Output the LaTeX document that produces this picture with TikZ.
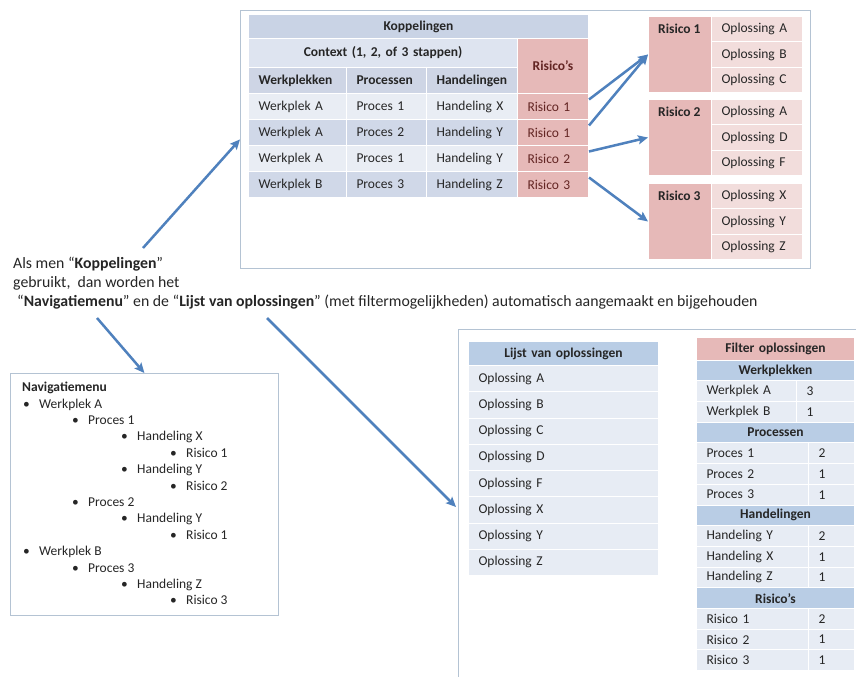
\documentclass[tikz,border=0pt]{standalone}
\usepackage{fontspec}
\setmainfont{Carlito}
\usetikzlibrary{arrows.meta}
\definecolor{txt}{RGB}{38,38,38}
\definecolor{risktxt}{RGB}{99,37,35}
\definecolor{kopkop}{RGB}{201,211,229}
\definecolor{kopctx}{RGB}{222,228,240}
\definecolor{kophead}{RGB}{206,213,229}
\definecolor{rowlight}{RGB}{233,237,244}
\definecolor{rowdark}{RGB}{208,216,232}
\definecolor{risk}{RGB}{230,185,184}
\definecolor{risklight}{RGB}{242,221,220}
\definecolor{lijsthead}{RGB}{185,205,229}
\definecolor{lijstrow}{RGB}{231,236,244}
\definecolor{framecol}{RGB}{180,195,211}
\definecolor{arrowblue}{RGB}{79,129,189}
\newcommand{\cellfont}{\fontsize{13.5}{16}\selectfont}

\tikzset{
    cell/.style={anchor=north west, inner xsep=10pt, inner ysep=0pt, draw=white, line width=1pt,
        text=txt, align=left, font=\cellfont},
    hcell/.style={cell, align=center, font=\cellfont\bfseries},
    cw/.style={minimum width=#1, text width=#1-20pt},
    ch/.style={minimum height=#1},
    frame/.style={draw=framecol, line width=0.8pt},
    blocklabel/.style={anchor=north west, inner sep=0pt, xshift=10pt, yshift=-8pt,
        font=\cellfont\bfseries, text=txt},
    link/.style={draw=arrowblue, line width=2.5pt, -{Stealth[length=10pt, width=9pt, inset=2pt]}},
}

\begin{document}
\begin{tikzpicture}[x=1pt, y=-1pt]
    \path[fill=white, use as bounding box] (0,0) rectangle (856,677);

    % Frames
    \node[frame, anchor=north west, inner sep=0pt, minimum width=570pt, minimum height=258pt] (koppelbox) at (240,10) {};
    \node[frame, anchor=north west, inner sep=0pt, minimum width=268pt, minimum height=242pt] (navbox) at (10,373) {};
    \draw[frame] (856,329) -| (458,677);

    % Koppelingen table
    \node[hcell, fill=kopkop, cw=340pt, ch=24pt] (kop) at (248,14) {Koppelingen};
    \node[hcell, fill=kopctx, cw=269pt, ch=29pt] (context) at (248,38) {Context (1, 2, of 3 stappen)};
    \node[hcell, fill=risk, text=risktxt, cw=71pt, ch=55pt] (riskhead) at (517,38) {Risico’s};
    \node[cell, font=\cellfont\bfseries, fill=kophead, cw=98pt, ch=26pt] (hwerk) at (248,67) {Werkplekken};
    \node[cell, font=\cellfont\bfseries, fill=kophead, cw=80pt, ch=26pt] (hproc) at (346,67) {Processen};
    \node[cell, font=\cellfont\bfseries, fill=kophead, cw=91pt, ch=26pt] (hhand) at (426,67) {Handelingen};
    \foreach \w/\p/\h/\r/\c [count=\i from 0] in {Werkplek A/Proces 1/Handeling X/Risico 1/rowlight,
        Werkplek A/Proces 2/Handeling Y/Risico 1/rowdark, Werkplek A/Proces 1/Handeling Y/Risico 2/rowlight,
        Werkplek B/Proces 3/Handeling Z/Risico 3/rowdark} {
        \node[cell, fill=\c, cw=98pt, ch=26pt] (werk\i) at (248,93+26*\i) {\w};
        \node[cell, fill=\c, cw=80pt, ch=26pt] (proc\i) at (346,93+26*\i) {\p};
        \node[cell, fill=\c, cw=91pt, ch=26pt] (hand\i) at (426,93+26*\i) {\h};
        \node[cell, fill=risk, text=risktxt, cw=71pt, ch=26pt] (risk\i) at (517,93+26*\i) {\r};
    }

    % Risico blocks with oplossingen
    \foreach \b/\top/\oa/\ob/\oc in {1/16/A/B/C, 2/99/A/D/F, 3/183/X/Y/Z} {
        \node[cell, fill=risk, cw=63pt, ch=76pt, label={[blocklabel]north west:Risico \b}] (rblok\b) at (648,\top) {};
        \node[cell, fill=risklight, cw=91pt, ch=25.33pt] (opl\b-1) at (711,\top) {Oplossing \oa};
        \node[cell, fill=risklight, cw=91pt, ch=25.33pt] (opl\b-2) at (711,\top+25.33) {Oplossing \ob};
        \node[cell, fill=risklight, cw=91pt, ch=25.33pt] (opl\b-3) at (711,\top+50.67) {Oplossing \oc};
    }

    % Links risico -> oplossingen
    \draw[link] ([yshift=7pt]risk0.east) -- (rblok1.west);
    \draw[link] ([yshift=7pt]risk1.east) -- (rblok1.west);
    \draw[link] ([yshift=7pt]risk2.east) -- (rblok2.west);
    \draw[link] ([yshift=7pt]risk3.east) -- (rblok3.west);

    % Explanation
    \node[anchor=north west, inner sep=0pt, align=left, text=txt, font=\fontsize{15.8}{19}\selectfont] (intro) at (13,257)
        {Als men “\textbf{Koppelingen}”\\gebruikt,\ \ dan worden het\\\hspace*{4pt}“\textbf{Navigatiemenu}” en de “\textbf{Lijst van oplossingen}” (met filtermogelijkheden) automatisch aangemaakt en bijgehouden};
    \coordinate (kstart) at (143,248);
    \coordinate (nstart) at (97,318);
    \coordinate (lstart) at (267,318);
    \coordinate (lijstin) at (456,507);
    \draw[link] (kstart) -- (koppelbox.west);
    \draw[link] (nstart) -- (navbox.north);
    \draw[link] (lstart) -- (lijstin);

    % Navigatiemenu
    \node[anchor=base west, inner sep=0pt, text=txt, font=\cellfont\bfseries] (navhead) at (22,391.5) {Navigatiemenu};
    \foreach \lvl/\t [count=\i from 1] in {1/Werkplek A, 2/Proces 1, 3/Handeling X, 4/Risico 1, 3/Handeling Y,
        4/Risico 2, 2/Proces 2, 3/Handeling Y, 4/Risico 1, 1/Werkplek B, 2/Proces 3, 3/Handeling Z, 4/Risico 3} {
        \node[anchor=base west, inner sep=0pt, text=txt, font=\cellfont] (nav\i) at ({23+49*(\lvl-1)},{408+16.4*(\i-1)})
            {\makebox[16pt][l]{•}\t};
    }

    % Lijst van oplossingen
    \node[hcell, fill=lijsthead, cw=190pt, ch=24pt] (lijsthead) at (468,341) {Lijst van oplossingen};
    \foreach \o [count=\i from 0] in {A,B,C,D,F,X,Y,Z} {
        \node[cell, fill=lijstrow, cw=190pt, ch=26.25pt] (lijst\i) at (468,365+26.25*\i) {Oplossing \o};
    }

    % Filter oplossingen
    \node[hcell, fill=risk, cw=158pt, ch=22.6pt] (filterhead) at (696,337) {Filter oplossingen};
    \foreach \t/\k in {Werkplekken/0, Processen/3, Handelingen/7, Risico’s/11} {
        \node[hcell, fill=lijsthead, cw=158pt, ch=20.7pt] (fh\k) at (696,359.6+20.7*\k) {\t};
    }
    \foreach \t/\n/\k/\s in {Werkplek A/3/1/100, Werkplek B/1/2/100, Proces 1/2/4/112, Proces 2/1/5/112,
        Proces 3/1/6/112, Handeling Y/2/8/112, Handeling X/1/9/112, Handeling Z/1/10/112,
        Risico 1/2/12/112, Risico 2/1/13/112, Risico 3/1/14/112} {
        \node[cell, fill=lijstrow, cw=\s*1pt, ch=20.7pt] (fl\k) at (696,359.6+20.7*\k) {\t};
        \node[cell, fill=lijstrow, cw={(158-\s)*1pt}, ch=20.7pt] (fn\k) at (696+\s,359.6+20.7*\k) {\n};
    }
\end{tikzpicture}
\end{document}
